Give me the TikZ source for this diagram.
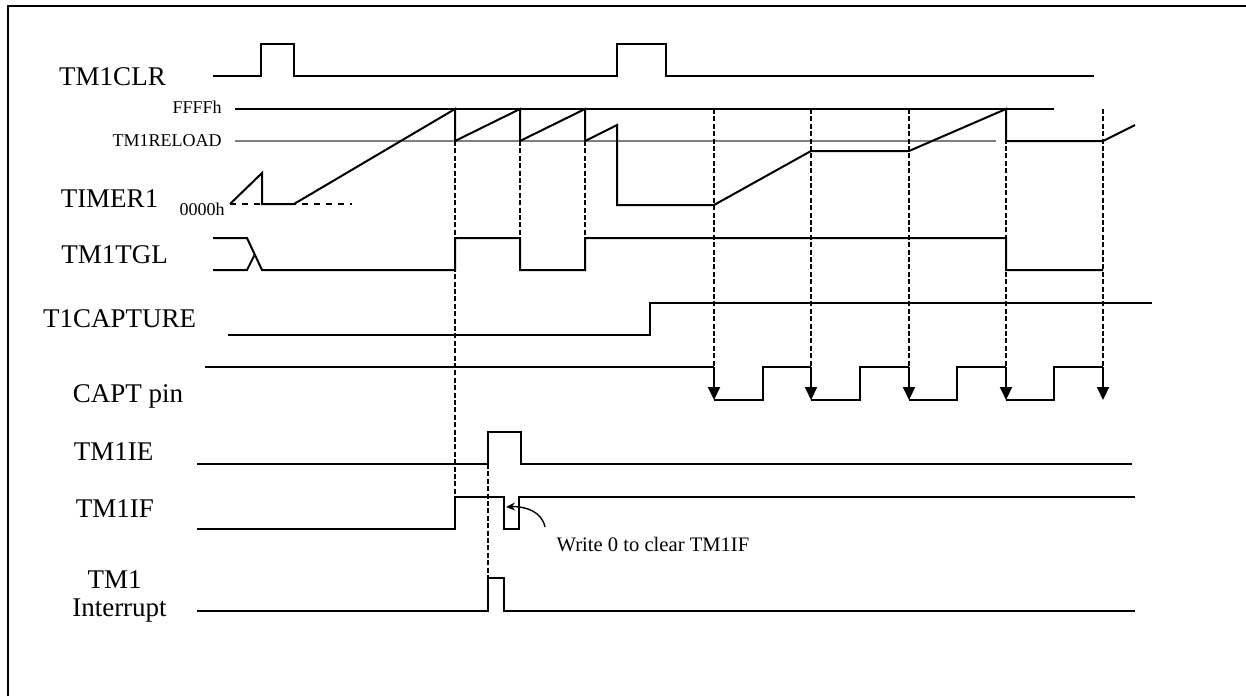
\documentclass[tikz,border=0pt]{standalone}
\usepackage{fontspec}
\setmainfont{Liberation Serif}
\usetikzlibrary{arrows.meta,positioning}

\begin{document}
\begin{tikzpicture}[x=0.5pt, y=-0.5pt,
    sig/.style={line width=1pt},
    thin line/.style={line width=0.6pt},
    guide/.style={line width=0.7pt, dash pattern=on 2.5pt off 1.2pt},
    biglbl/.style={anchor=base, inner sep=0pt, font=\fontsize{13.5}{15}\selectfont},
    smalllbl/.style={anchor=base east, inner sep=0pt, font=\fontsize{9}{10}\selectfont},
    edge/.style={sig, -{Triangle[width=6pt,length=6.5pt]}}]
    \useasboundingbox (0,0) rectangle (1246,696);
    \draw[line width=1pt] (8,696) -- (8,6) -- (1246,6);

    % signal names
    \node (clr) [biglbl] at (112.5,85) {TM1CLR};
    \node (tmr) [biglbl] at (109.5,207) {TIMER1};
    \node (tgl) [biglbl] at (114.5,263) {TM1TGL};
    \node (cap) [biglbl] at (119.7,327) {T1CAPTURE};
    \node (pin) [biglbl] at (128,402) {CAPT pin};
    \node (ie) [biglbl] at (113.5,460) {TM1IE};
    \node (iflag) [biglbl] at (115,517) {TM1IF};
    \node (tm1) [biglbl] at (114.7,588) {TM1};
    \node (intr) [biglbl] at (119.5,616) {Interrupt};
    \node (ffff) [smalllbl] at (222,113) {FFFFh};
    \node (rld) [smalllbl] at (222,146.5) {TM1RELOAD};
    \node (zero) [smalllbl] at (225,215) {0000h};

    % TM1CLR
    \draw[sig] (213,76) -- (261,76) -- (261,43.5) -- (294,43.5) -- (294,76) -- (617,76)
        -- (617,43.5) -- (666,43.5) -- (666,76) -- (1094,76);

    % TIMER1
    \draw[thin line] (235,109) -- (1054,109);
    \draw[thin line, gray] (235,141) -- (996,141);
    \draw[thin line, dashed] (230,204) -- (352,204);
    \draw[sig] (230,204) -- (262,173) -- (262,204) -- (294,204) -- (455,109) -- (455,141)
        -- (520,109) -- (520,141) -- (585,109) -- (585,141) -- (617,125) -- (617,205)
        -- (714,205) -- (811,151) -- (909,151) -- (1006,109) -- (1006,141) -- (1103,141)
        -- (1135,125);

    % TM1TGL
    \draw[sig] (213,238) -- (247,238) -- (262,270) -- (455,270) -- (455,238) -- (520,238)
        -- (520,270) -- (585,270) -- (585,238) -- (1006,238) -- (1006,270) -- (1103,270);
    \draw[sig] (213,270) -- (247,270) -- (255,254);

    % T1CAPTURE
    \draw[sig] (228,335) -- (650,335) -- (650,303) -- (1152,303);

    % guides
    \draw[guide] (455,141) -- (455,497);
    \draw[guide] (520,141) -- (520,238);
    \draw[guide] (585,141) -- (585,238);
    \draw[guide] (488,464) -- (488,578);
    \foreach \x in {714,811,909,1006,1103}
        \draw[guide] (\x,109) -- (\x,367);

    % CAPT pin
    \draw[sig] (205,367) -- (714,367);
    \foreach \a/\b/\c in {714/763/811, 811/860/909, 909/957/1006, 1006/1054/1103} {
        \draw[edge] (\a,367) -- (\a,400);
        \draw[sig] (\a,400) -- (\b,400) -- (\b,367) -- (\c,367);
    }
    \draw[edge] (1103,367) -- (1103,400);

    % TM1IE, TM1IF, TM1 Interrupt
    \draw[sig] (197,464) -- (488,464) -- (488,432) -- (521,432) -- (521,464) -- (1132,464);
    \draw[sig] (197,529) -- (455,529) -- (455,497) -- (504,497) -- (504,529) -- (519,529)
        -- (519,497) -- (1135,497);
    \draw[sig] (197,611) -- (488,611) -- (488,578) -- (504,578) -- (504,611) -- (1135,611);

    % note
    \node (note) [inner sep=0pt, font=\fontsize{10.3}{12}\selectfont] at (653,544) {Write 0 to clear TM1IF};
    \coordinate (noteStart) at (545,527);
    \coordinate (clrEdge) at (506,507);
    \draw[line width=0.7pt, -{Stealth[length=4.5pt,width=4pt]}] (noteStart) .. controls (542,512) and (526,506) .. (clrEdge);
\end{tikzpicture}
\end{document}
